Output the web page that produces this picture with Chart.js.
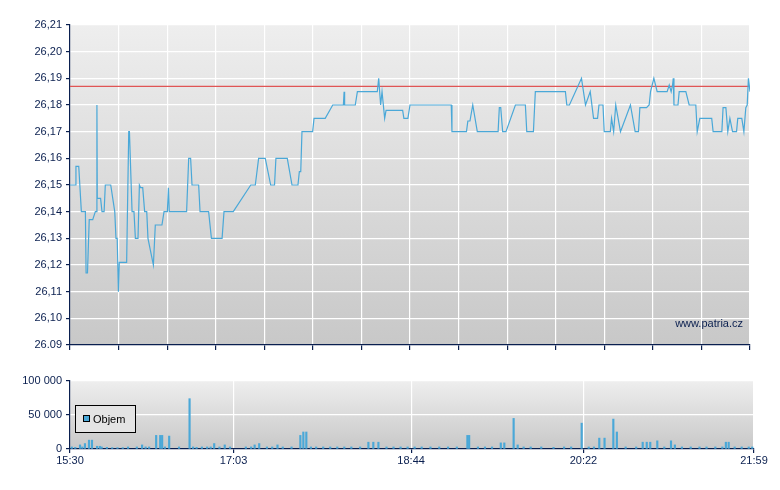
<!DOCTYPE html>
<html><head><meta charset="utf-8">
<script src="https://cdn.jsdelivr.net/npm/chart.js@4/dist/chart.umd.min.js"></script>
<style>
body{margin:0;background:#fff;width:780px;height:490px;overflow:hidden;font-family:"Liberation Sans",Arial,sans-serif}
#c1{position:absolute;left:0;top:0}
#c2{position:absolute;left:0;top:360px}
</style></head><body>
<canvas id="c1" width="780" height="360"></canvas>
<canvas id="c2" width="780" height="110"></canvas>
<script>
// minutes since 15:30
const priceMinutes=[0,3,3.4,5,6.5,8.8,9.2,10,11,13,14.5,15.2,15.4,15.6,17.5,18.3,19.5,20.2,23.3,25.6,26.3,27,27.7,28.2,32.4,33.6,34,35.5,36.6,37.4,38.9,39.7,40.4,41.6,42.7,43.9,44.6,47.7,48.8,52.6,53.8,55.7,56.3,56.8,66.7,67.9,69,69.8,73.6,74.4,79.3,80.9,87,88.1,93.4,103.4,106,107.9,111.7,114.8,117,117.8,124.3,127,130.4,131.2,132,132.7,138.8,139.6,146,150.3,156.4,156.8,157.1,163.2,164.4,175.8,176.6,177.7,178.5,180,180.8,190.3,191,193.3,194.5,218.1,218.5,226.8,227.6,228.8,230.4,233,244.9,245.6,246.4,247.5,249.4,252.1,254.8,260.5,261.3,265.1,266.2,283.4,284.2,285.7,292.6,294.9,297.6,299.5,301.8,302.6,304.9,305.6,309.1,309.8,311,312.2,314.9,320.6,323.3,325.2,326,329.8,331.3,332.1,334,335.9,341.6,342.8,343.9,344.7,345.1,345.5,347.8,348.5,352.3,354.2,358,358.8,360.3,367.1,367.9,372.9,373.6,375.2,376.3,377.5,379,381.3,382,384.3,385.5,386.6,387.4,388.1,389];
const prices=[26.15,26.15,26.157,26.157,26.14,26.14,26.117,26.117,26.137,26.137,26.14,26.14,26.18,26.145,26.145,26.14,26.14,26.15,26.15,26.14,26.13,26.13,26.11,26.121,26.121,26.17,26.17,26.14,26.14,26.13,26.13,26.15,26.149,26.149,26.14,26.14,26.13,26.12,26.135,26.135,26.14,26.14,26.149,26.14,26.14,26.16,26.16,26.15,26.15,26.14,26.14,26.13,26.13,26.14,26.14,26.15,26.15,26.16,26.16,26.15,26.15,26.16,26.16,26.15,26.15,26.155,26.155,26.17,26.17,26.175,26.175,26.18,26.18,26.185,26.18,26.18,26.185,26.185,26.19,26.18,26.185,26.175,26.178,26.178,26.175,26.175,26.18,26.18,26.17,26.17,26.174,26.174,26.18,26.17,26.17,26.179,26.179,26.17,26.17,26.175,26.18,26.18,26.17,26.17,26.185,26.185,26.18,26.18,26.19,26.18,26.185,26.175,26.175,26.18,26.18,26.17,26.17,26.175,26.17,26.18,26.17,26.18,26.17,26.17,26.179,26.179,26.18,26.185,26.19,26.185,26.185,26.1875,26.185,26.1875,26.19,26.18,26.18,26.185,26.185,26.18,26.18,26.17,26.175,26.175,26.17,26.17,26.179,26.179,26.17,26.175,26.17,26.17,26.175,26.175,26.17,26.179,26.18,26.19,26.185];
const refPrice=26.187;
const priceTickLabels={"26.09":"26.09","26.1":"26,10","26.11":"26,11","26.12":"26,12","26.13":"26,13","26.14":"26,14","26.15":"26,15","26.16":"26,16","26.17":"26,17","26.18":"26,18","26.19":"26,19","26.2":"26,20","26.21":"26,21"};
const volMinutes=[1,3,5.7,7,8.5,10.8,12.5,15.4,17,18,21,24,27,30,33,38,41,43,45,49,51.3,52.4,54,56.4,62,68,70,72,75,78,80,82,85,88,91,100,103,105,107.6,112,115,118,121,126,131,132.7,134.4,137,140,144,148,152,156,160,165,169.7,172.5,175.4,180,184,188,192,196,200,205,210,215,220,226,227,232,236,240,245,247,252.3,254.6,258,262,268,275,281,285,291,295,298,301,304,309,311,316,322,325.7,328,330,334,338,341.8,344,348,353,358,362,367,371,373,374.6,378,382,386,388];
const volumes=[3000,2500,6000,3000,8000,13000,13000,4000,4000,3000,2500,2000,2000,2000,3000,3000,6000,3000,3000,20000,20000,20000,3000,19000,3000,74000,3000,2500,3000,3000,3000,8000,3000,6000,3000,3000,3000,6000,8000,3000,3000,6000,3000,3000,20000,25000,25000,3000,3000,3000,3000,3000,3000,3000,3000,10000,10000,10000,3000,3000,3000,3000,3000,3000,3000,3000,3000,3000,20000,20000,3000,3000,3000,9000,9000,45000,6000,3000,3000,3000,2500,3000,3000,38000,3000,3000,16000,16000,44000,25000,3000,3000,10000,10000,10000,12000,3000,12000,6000,3000,3000,3000,3000,3000,3000,10000,10000,3000,3000,3000,3000];
const timeTicks=[0,93,194,292,389];
const timeLabels=["15:30","17:03","18:44","20:22","21:59"];
const volTickLabels={"0":"0","50000":"50 000","100000":"100 000"};

const NAVY='#0a1f4f', LINE='#4aa8d8';
const bgPlugin={id:'bg',beforeDraw(c){const a=c.chartArea,x=c.ctx;const g=x.createLinearGradient(0,a.top,0,a.bottom);g.addColorStop(0,'#eeeeee');g.addColorStop(1,'#c8c8c8');x.save();x.fillStyle=g;x.fillRect(a.left,a.top,a.right-a.left,a.bottom-a.top);x.restore();}};
Chart.defaults.font.family='"Liberation Sans",Arial,sans-serif';
Chart.defaults.font.size=11;
Chart.defaults.color=NAVY;

new Chart(document.getElementById('c1'),{
 type:'line',
 data:{datasets:[
  {data:priceMinutes.map((m,i)=>({x:m,y:prices[i]})),borderColor:LINE,borderWidth:1.2,pointRadius:0,tension:0},
  {data:[{x:0,y:refPrice},{x:389,y:refPrice}],borderColor:'#e05555',borderWidth:1.2,pointRadius:0}
 ]},
 options:{responsive:false,animation:false,events:[],
  layout:{padding:{left:0,right:30,top:25,bottom:0}},
  plugins:{legend:{display:false},tooltip:{enabled:false}},
  scales:{
   x:{type:'linear',min:0,max:389,
    afterBuildTicks(s){s.ticks=[];for(let i=0;i<=14;i++)s.ticks.push({value:389*i/14});},
    afterFit(s){s.height=15;},
    ticks:{display:false},
    grid:{color:'#ffffff',lineWidth:1.2,tickColor:NAVY,tickLength:5},
    border:{color:NAVY,width:1.2}},
   y:{min:26.09,max:26.21,
    afterBuildTicks(s){s.ticks=Object.keys(priceTickLabels).map(v=>({value:parseFloat(v)}));},
    afterFit(s){s.width=70;},
    ticks:{callback:v=>priceTickLabels[String(Math.round(v*100)/100)],padding:4},
    grid:{color:'#ffffff',lineWidth:1.2,tickColor:NAVY,tickLength:4},
    border:{color:NAVY,width:1.2}}
  }},
 plugins:[bgPlugin,{id:'wm',afterDraw(c){const x=c.ctx;x.save();x.font='11px "Liberation Sans",Arial';x.fillStyle=NAVY;x.textAlign='right';x.fillText('www.patria.cz',743,327);x.restore();}}]
});

new Chart(document.getElementById('c2'),{
 type:'bar',
 data:{datasets:[{data:volMinutes.map((m,i)=>({x:m,y:volumes[i]})),backgroundColor:LINE,barThickness:1.5}]},
 options:{responsive:false,animation:false,events:[],
  layout:{padding:{left:0,right:26,top:21,bottom:0}},
  plugins:{legend:{display:false},tooltip:{enabled:false}},
  scales:{
   x:{type:'linear',min:0,max:389,offset:false,
    afterBuildTicks(s){s.ticks=timeTicks.map(v=>({value:v}));},
    afterFit(s){s.height=21;},
    ticks:{callback:(v)=>timeLabels[timeTicks.indexOf(v)],maxRotation:0,autoSkip:false,padding:1},
    grid:{offset:false,color:'#ffffff',lineWidth:1.2,tickColor:NAVY,tickLength:4},
    border:{color:NAVY,width:1.2}},
   y:{min:0,max:100000,
    afterBuildTicks(s){s.ticks=Object.keys(volTickLabels).map(v=>({value:+v}));},
    afterFit(s){s.width=70;},
    ticks:{callback:v=>volTickLabels[String(v)],padding:4},
    grid:{color:'#ffffff',lineWidth:1.2,tickColor:NAVY,tickLength:4},
    border:{color:NAVY,width:1.2}}
  }},
 plugins:[bgPlugin,{id:'lg',afterDraw(c){const x=c.ctx;x.save();x.fillStyle='#e4e4e4';x.fillRect(75.5,45.5,60,27);x.strokeStyle='#000';x.lineWidth=1;x.strokeRect(75.5,45.5,60,27);x.fillStyle=LINE;x.fillRect(83,55,7,7);x.strokeRect(83.5,55.5,6,6);x.fillStyle='#000';x.font='11px "Liberation Sans",Arial';x.textBaseline='middle';x.fillText('Objem',93,60);x.restore();}}]
});
</script></body></html>
